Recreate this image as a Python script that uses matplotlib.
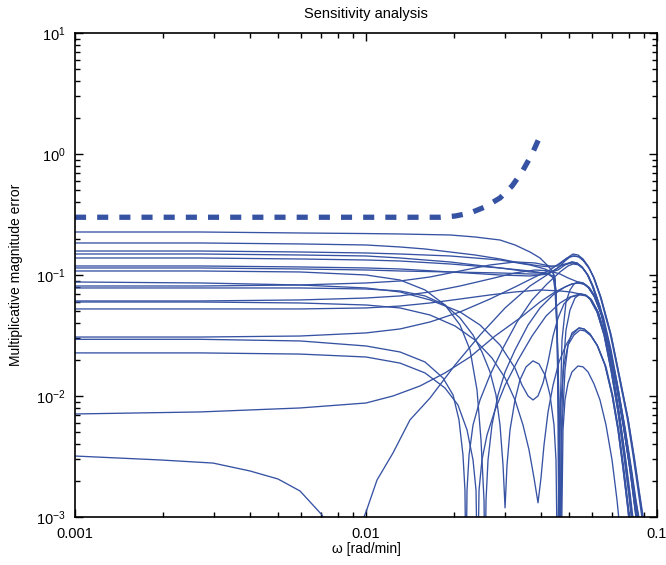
import matplotlib
matplotlib.use('Agg')
import matplotlib.pyplot as plt
from matplotlib.ticker import FixedLocator, FixedFormatter, NullFormatter, LogLocator

plt.rcParams['font.family'] = ['Liberation Sans', 'DejaVu Sans']
plt.rcParams['mathtext.default'] = 'regular'

# uncertainty bound (dashed)
bound_w = [0.001, 0.01796, 0.02022, 0.02278, 0.02564, 0.02887, 0.03176, 0.03436, 0.0372, 0.03993]
bound_v = [0.30, 0.30, 0.307, 0.325, 0.365, 0.433, 0.544, 0.71, 1.0, 1.46]

# multiplicative errors of the perturbed models
w1 = [0.001, 0.002689, 0.005933, 0.01, 0.01309, 0.01945, 0.02369, 0.02887, 0.03251, 0.0366, 0.03962, 0.04222, 0.04393, 0.04462,
      0.04533, 0.04569, 0.04605, 0.04642, 0.04715, 0.04867, 0.05024, 0.05185,
      0.05351, 0.05568, 0.05794, 0.06075, 0.06471, 0.06894, 0.07287, 0.077, 0.08075, 0.08537]
e1 = [0.2266, 0.2266, 0.2224, 0.22, 0.2182, 0.2141, 0.2061, 0.1946, 0.177, 0.1549, 0.1382, 0.1187, 0.1059, 0.0945,
      0.0425, 0.00634, 0.0003, 0.00634, 0.029, 0.0598, 0.0752, 0.0843,
      0.0875, 0.0859, 0.0796, 0.0671, 0.0458, 0.024, 0.01165, 0.00524, 0.00245, 0.00086]

w2 = [0.001, 0.002689, 0.005933, 0.01, 0.01309, 0.01595, 0.01945, 0.02369, 0.02887, 0.03382, 0.03962, 0.04393, 0.04642, 0.04867, 0.05024,
      0.05144, 0.05351, 0.05568, 0.05794, 0.06027, 0.06369, 0.06894, 0.07345, 0.07886, 0.0827, 0.08605, 0.08951]
e2 = [0.1839, 0.1839, 0.1805, 0.177, 0.1704, 0.164, 0.1549, 0.1463, 0.1356, 0.1257, 0.1187, 0.1165, 0.1233, 0.1356, 0.1436,
      0.149, 0.1463, 0.1356, 0.1187, 0.0981, 0.0671, 0.0332, 0.0158, 0.00671, 0.00325, 0.00167, 0.00086]

w3 = [0.001, 0.002689, 0.005933, 0.01, 0.01309, 0.01945, 0.02887, 0.0366, 0.04122, 0.04393, 0.04497, 0.04569, 0.04605, 0.04642,
      0.04678, 0.04753, 0.04867, 0.05024, 0.05226,
      0.05437, 0.05657, 0.05885, 0.06221, 0.06577, 0.06948, 0.07345, 0.077, 0.08013, 0.0827]
e3 = [0.1578, 0.1578, 0.1549, 0.152, 0.1491, 0.1436, 0.133, 0.121, 0.1121, 0.1039, 0.0752, 0.0198, 0.00358, 0.0003,
      0.00358, 0.0164, 0.0351, 0.0514, 0.0645,
      0.0697, 0.0684, 0.0633, 0.0495, 0.0319, 0.0164, 0.00738, 0.00325, 0.00152, 0.00078]

w4 = [0.001, 0.002689, 0.005933, 0.01, 0.01309, 0.01945, 0.02887, 0.0366, 0.04222, 0.04569, 0.04828,
      0.05102, 0.05309, 0.05524, 0.05749, 0.0598, 0.06319, 0.06785, 0.07229, 0.077, 0.08075, 0.08402, 0.0874]
e4 = [0.1491, 0.1491, 0.1463, 0.1436, 0.1382, 0.1281, 0.1143, 0.1059, 0.1039, 0.11, 0.121,
      0.128, 0.1257, 0.1165, 0.1019, 0.0827, 0.0565, 0.0279, 0.01305, 0.00554, 0.00269, 0.00138, 0.00078]

w5 = [0.001, 0.002689, 0.005933, 0.01, 0.01309, 0.01945, 0.02887, 0.0366, 0.04222, 0.04462, 0.04533, 0.04605, 0.0466,
      0.04715, 0.04828, 0.04945, 0.05102,
      0.05395, 0.05612, 0.05885, 0.06221, 0.06626, 0.07006, 0.07345, 0.07639, 0.07949, 0.08075]
e5 = [0.1382, 0.1382, 0.1356, 0.133, 0.1305, 0.1233, 0.1143, 0.1079, 0.1019, 0.0927, 0.0351, 0.00524, 0.0003,
      0.00524, 0.0164, 0.0264, 0.0332,
      0.0365, 0.0358, 0.0325, 0.0264, 0.018, 0.0102, 0.00524, 0.00254, 0.00114, 0.00078]

w6 = [0.001, 0.002689, 0.005933, 0.01, 0.01309, 0.01945, 0.02887, 0.0366, 0.04222, 0.04569, 0.04828, 0.05024, 0.05185,
      0.0537, 0.0559, 0.0582, 0.0606, 0.0641, 0.0694, 0.0739, 0.0794, 0.0832, 0.0866, 0.09]
e6 = [0.1187, 0.1187, 0.1165, 0.1143, 0.1121, 0.1059, 0.1, 0.0981, 0.1019, 0.1143, 0.1305, 0.1409, 0.1436,
      0.142, 0.132, 0.116, 0.096, 0.066, 0.0326, 0.0155, 0.0066, 0.0032, 0.00165, 0.00086]

w7 = [0.001, 0.002689, 0.005933, 0.01, 0.01309, 0.01945, 0.02887, 0.0366, 0.04222, 0.04393, 0.04462, 0.04533, 0.04605, 0.04678,
      0.04753, 0.04828, 0.04945, 0.05102,
      0.05351, 0.05568, 0.05794, 0.06075, 0.06369, 0.06679, 0.07006, 0.07287, 0.07461]
e7 = [0.1143, 0.1143, 0.1121, 0.11, 0.1079, 0.1059, 0.1039, 0.1019, 0.1019, 0.0981, 0.0752, 0.0351, 0.00927, 0.0003,
      0.00524, 0.00927, 0.0128, 0.0158,
      0.0177, 0.0174, 0.0158, 0.01257, 0.00927, 0.00576, 0.00296, 0.00138, 0.00078]

w8 = [0.001, 0.002689, 0.005933, 0.01, 0.01309, 0.01595, 0.01868, 0.02104, 0.02278, 0.02407, 0.02484, 0.02544, 0.02564,
      0.02585, 0.02626, 0.0271, 0.02842, 0.03005, 0.03251, 0.03605, 0.03962, 0.04393, 0.04828, 0.05102, 0.05351,
      0.056, 0.0583, 0.0611, 0.065, 0.0692, 0.0731, 0.0772, 0.081, 0.0856]
e8 = [0.1079, 0.1079, 0.1059, 0.1, 0.0909, 0.0752, 0.0565, 0.0386, 0.024, 0.0112, 0.00433, 0.00138, 0.0003,
      0.00138, 0.00296, 0.00576, 0.0102, 0.0158, 0.024, 0.0386, 0.0534, 0.0684, 0.0796, 0.0843, 0.0859,
      0.084, 0.078, 0.0655, 0.0445, 0.0232, 0.0112, 0.0051, 0.00238, 0.00086]

w9 = [0.001, 0.002689, 0.005933, 0.01, 0.01309, 0.0166, 0.02104, 0.02465, 0.02887, 0.03251, 0.03436, 0.03605, 0.03749,
      0.039, 0.04057, 0.04222, 0.04393, 0.04569, 0.0479, 0.05063, 0.05437,
      0.0572, 0.0596, 0.063, 0.0666, 0.0704, 0.0742, 0.0778, 0.081, 0.0836]
e9 = [0.0875, 0.0859, 0.0827, 0.0781, 0.0724, 0.0622, 0.0495, 0.0386, 0.0264, 0.017, 0.0123, 0.01, 0.00927,
      0.01, 0.0128, 0.0191, 0.0313, 0.0441, 0.0576, 0.0658, 0.0684,
      0.0672, 0.0622, 0.0487, 0.0314, 0.0161, 0.0073, 0.0032, 0.0015, 0.00078]

w10 = [0.001, 0.002689, 0.005933, 0.01, 0.01309, 0.0166, 0.02104, 0.02668, 0.03251, 0.03809, 0.04288, 0.04642, 0.04905, 0.05102,
       0.0533, 0.0555, 0.0578, 0.0601, 0.0635, 0.0682, 0.0727, 0.0774, 0.0811, 0.0845, 0.0878]
e10 = [0.0811, 0.0811, 0.0827, 0.0859, 0.0892, 0.0963, 0.1079, 0.121, 0.1281, 0.1257, 0.1187, 0.1187, 0.1233, 0.1257,
       0.1235, 0.1145, 0.1, 0.0812, 0.0555, 0.0274, 0.0128, 0.00545, 0.00265, 0.00136, 0.00078]

w11 = [0.001, 0.002689, 0.005933, 0.01, 0.01309, 0.01595, 0.01868, 0.02104, 0.02332, 0.02503, 0.02668, 0.02797, 0.02887,
       0.02957, 0.03005, 0.03052, 0.03125, 0.03251, 0.03382, 0.03548, 0.03749, 0.03931, 0.04122, 0.04288, 0.04426,
       0.04497, 0.04551, 0.04605, 0.04678, 0.0479, 0.04945, 0.05185, 0.05437,
       0.0565, 0.0593, 0.0627, 0.0668, 0.0706, 0.074, 0.077, 0.0801, 0.0814]
e11 = [0.0781, 0.0781, 0.0781, 0.0766, 0.0738, 0.0671, 0.0565, 0.0441, 0.0319, 0.0231, 0.0158, 0.0102, 0.00576,
       0.00269, 0.00119, 0.00269, 0.00524, 0.00927, 0.0136, 0.0174, 0.0195, 0.0184, 0.0149, 0.0102, 0.00576,
       0.00296, 0.0003, 0.00296, 0.00927, 0.018, 0.0264, 0.0319, 0.0351,
       0.0345, 0.0314, 0.0255, 0.0174, 0.0099, 0.0051, 0.00248, 0.00112, 0.00078]

w12 = [0.001, 0.002689, 0.005933, 0.01, 0.01309, 0.0166, 0.02104, 0.02668, 0.03251, 0.03809, 0.04288, 0.04642, 0.04945,
       0.05351, 0.05568, 0.05794, 0.06075, 0.06471, 0.06894, 0.07287, 0.077, 0.08075, 0.08537]
e12 = [0.061, 0.061, 0.0622, 0.0645, 0.0671, 0.0724, 0.0811, 0.0927, 0.1039, 0.11, 0.1079, 0.1019, 0.0945,
       0.0875, 0.0859, 0.0796, 0.0671, 0.0458, 0.024, 0.01165, 0.00524, 0.00245, 0.00086]

w13 = [0.001, 0.002689, 0.005933, 0.01, 0.01309, 0.0166, 0.02022, 0.02369, 0.0271, 0.03005, 0.03251, 0.03463, 0.03633, 0.03779,
       0.039, 0.03993, 0.0409, 0.04222, 0.04393, 0.04605, 0.04867, 0.05102,
       0.05395, 0.05612, 0.05885, 0.06221, 0.06626, 0.07006, 0.07345, 0.07639, 0.07949, 0.08075]
e13 = [0.0598, 0.0598, 0.0587, 0.0565, 0.0534, 0.0467, 0.0379, 0.029, 0.0206, 0.0141, 0.00927, 0.00576, 0.00358, 0.0021,
       0.00131, 0.0021, 0.00394, 0.00738, 0.0123, 0.0191, 0.0264, 0.0319,
       0.0365, 0.0358, 0.0325, 0.0264, 0.018, 0.0102, 0.00524, 0.00254, 0.00114, 0.00078]

w14 = [0.001, 0.002689, 0.005933, 0.01, 0.01309, 0.0166, 0.02104, 0.02668, 0.03251, 0.03962, 0.04642, 0.05024,
       0.05437, 0.05657, 0.05885, 0.06221, 0.06577, 0.06948, 0.07345, 0.077, 0.08013, 0.0827]
e14 = [0.0524, 0.0524, 0.0524, 0.0534, 0.0554, 0.0587, 0.0633, 0.0684, 0.0724, 0.0752, 0.0738, 0.0724,
       0.0697, 0.0684, 0.0633, 0.0495, 0.0319, 0.0164, 0.00738, 0.00325, 0.00152, 0.00078]

w15 = [0.001, 0.002689, 0.005933, 0.01, 0.01309, 0.0166, 0.02104, 0.02668, 0.03251, 0.03809, 0.04288, 0.04642, 0.04905, 0.05144,
       0.054, 0.056, 0.0585, 0.0609, 0.0644, 0.0697, 0.0742, 0.0797, 0.0836, 0.087, 0.0905]
e15 = [0.0307, 0.0307, 0.0313, 0.0332, 0.0358, 0.0409, 0.0495, 0.0633, 0.0796, 0.0963, 0.11, 0.1257, 0.1382, 0.1436,
       0.141, 0.13, 0.113, 0.093, 0.063, 0.031, 0.0148, 0.0063, 0.0031, 0.0016, 0.00086]

w16 = [0.001, 0.002689, 0.005933, 0.01, 0.01309, 0.01595, 0.01839, 0.01991, 0.02087, 0.02154, 0.02188, 0.02206, 0.02224,
       0.0226, 0.02332, 0.02465, 0.02668, 0.02957, 0.03304, 0.0372, 0.04188, 0.04642, 0.04945, 0.05144,
       0.0536, 0.0558, 0.0581, 0.0604, 0.0638, 0.0685, 0.073, 0.0777, 0.0815, 0.0848, 0.0882]
e16 = [0.0294, 0.0294, 0.0285, 0.0259, 0.0231, 0.0191, 0.0141, 0.0102, 0.00634, 0.00325, 0.00167, 0.0003, 0.00167,
       0.00325, 0.00576, 0.00927, 0.0149, 0.0249, 0.0409, 0.0622, 0.0843, 0.1059, 0.1187, 0.1233,
       0.1215, 0.1125, 0.0985, 0.08, 0.0546, 0.027, 0.0126, 0.0054, 0.0026, 0.00134, 0.00078]

w17 = [0.001, 0.002689, 0.005933, 0.01, 0.01309, 0.01595, 0.01868, 0.0207, 0.02224, 0.02332, 0.02388, 0.02417, 0.02446,
       0.02503, 0.02605, 0.02776, 0.03005, 0.03329, 0.0372, 0.04156, 0.04642, 0.05024, 0.05437,
       0.0568, 0.0592, 0.0626, 0.0661, 0.0699, 0.0738, 0.0774, 0.0805, 0.0831]
e17 = [0.0227, 0.0227, 0.0222, 0.021, 0.0187, 0.0155, 0.01165, 0.00843, 0.00524, 0.00296, 0.00167, 0.0003, 0.00167,
       0.00296, 0.00476, 0.00766, 0.0123, 0.0198, 0.0313, 0.0458, 0.0587, 0.0658, 0.0697,
       0.0686, 0.0636, 0.0498, 0.0321, 0.0165, 0.0074, 0.0033, 0.00153, 0.00078]

w18 = [0.001, 0.002689, 0.005933, 0.01, 0.01238, 0.01533, 0.01868, 0.02278, 0.02776, 0.03382, 0.03962, 0.04462, 0.04828, 0.05102, 0.05351,
       0.0563, 0.0586, 0.0614, 0.0654, 0.0696, 0.0736, 0.0778, 0.0815, 0.0862]
e18 = [0.0071, 0.00738, 0.00796, 0.00875, 0.01, 0.0121, 0.0155, 0.021, 0.0313, 0.0441, 0.0598, 0.0724, 0.0796, 0.0843, 0.0859,
       0.0845, 0.0785, 0.0662, 0.0452, 0.0236, 0.0114, 0.0052, 0.0024, 0.00086]

w19 = [0.001, 0.00196, 0.00298, 0.003993, 0.004984, 0.005933, 0.00706, 0.008402, 0.01, 0.01091, 0.01238, 0.01416, 0.0166,
       0.02022, 0.02465, 0.03005, 0.0366, 0.04288, 0.04715,
       0.05102, 0.05309, 0.05524, 0.05749, 0.0598, 0.06319, 0.06785, 0.07229, 0.077, 0.08075, 0.08402, 0.0874]
e19 = [0.00319, 0.00296, 0.00279, 0.0024, 0.00206, 0.00164, 0.00104, 0.0004, 0.0011, 0.00202, 0.00338, 0.00634, 0.00963,
       0.018, 0.0319, 0.0534, 0.0811, 0.1039, 0.121,
       0.1281, 0.1257, 0.1165, 0.1019, 0.0827, 0.0565, 0.0279, 0.01305, 0.00554, 0.00269, 0.00138, 0.00078]

curves = [(w1, e1), (w2, e2), (w3, e3), (w4, e4), (w5, e5), (w6, e6), (w7, e7),
          (w8, e8), (w9, e9), (w10, e10), (w11, e11), (w12, e12), (w13, e13),
          (w14, e14), (w15, e15), (w16, e16), (w17, e17), (w18, e18), (w19, e19)]

blue = '#3652a3'

fig = plt.figure(figsize=(6.66, 5.65), dpi=100)
ax = fig.add_axes([0.1126, 0.085, 0.8739, 0.8566])

for w, e in curves:
    ax.loglog(w, e, color=blue, lw=0.95, solid_joinstyle='round')
ax.loglog(bound_w, bound_v, color=blue, lw=3.8, dashes=(2.1, 2.1), dash_capstyle='butt')

ax.set_xlim(0.001, 0.1)
ax.set_ylim(1e-3, 1e1)

ax.xaxis.set_major_locator(FixedLocator([0.001, 0.01, 0.1]))
ax.xaxis.set_major_formatter(FixedFormatter(['0.001', '0.01', '0.1']))
ax.xaxis.set_minor_locator(LogLocator(base=10, subs=range(2, 10)))
ax.xaxis.set_minor_formatter(NullFormatter())
ax.yaxis.set_minor_locator(LogLocator(base=10, subs=range(2, 10)))
ax.yaxis.set_minor_formatter(NullFormatter())

ax.tick_params(which='both', direction='in', top=True, right=True, width=1.0)
ax.tick_params(which='major', length=6, labelsize=10.5, pad=7)
ax.tick_params(which='minor', length=3.5)
for s in ax.spines.values():
    s.set_linewidth(1.2)

ax.set_title('Sensitivity analysis', fontsize=10.5, pad=11)
ax.set_xlabel('ω [rad/min]', fontsize=10, labelpad=1)
ax.set_ylabel('Multiplicative magnitude error', fontsize=10, labelpad=9)

fig.savefig('out.png', dpi=100)
